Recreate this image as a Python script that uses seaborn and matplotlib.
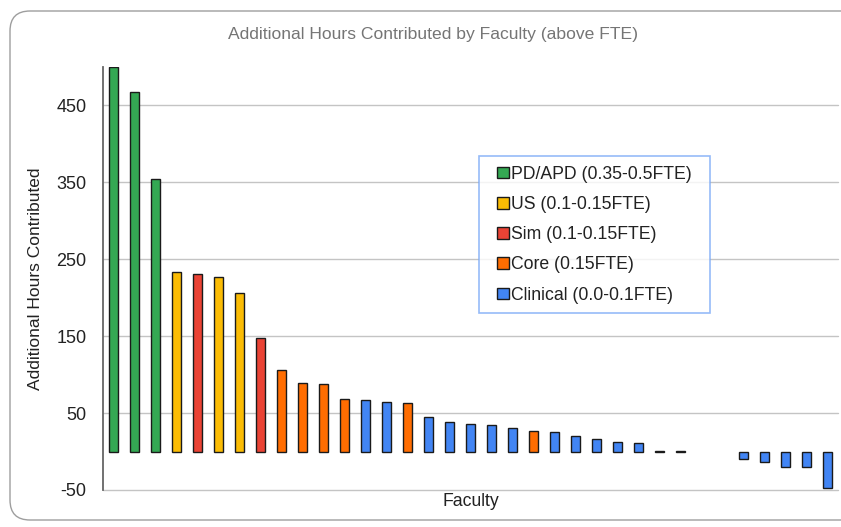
import matplotlib
matplotlib.use("Agg")
import matplotlib.pyplot as plt
from matplotlib.patches import FancyBboxPatch
from matplotlib.offsetbox import DrawingArea
import seaborn as sns
import pandas as pd
import numpy as np

# ---- data ----
faculty = [f"F{i+1}" for i in range(35)]
hours = [500, 468, 354, 233, 230.5, 226.5, 206, 148, 106, 89, 88, 68, 66.5, 64.5, 63,
         45, 39, 36, 35, 31, 26.5, 25, 20, 16, 13, 10.5, 1.2, 0.8, np.nan, np.nan,
         -9.5, -13.5, -19.5, -20.5, -48]
groups = ["PD/APD (0.35-0.5FTE)"] * 3 + [
    "US (0.1-0.15FTE)", "Sim (0.1-0.15FTE)", "US (0.1-0.15FTE)", "US (0.1-0.15FTE)",
    "Sim (0.1-0.15FTE)", "Core (0.15FTE)", "Core (0.15FTE)", "Core (0.15FTE)", "Core (0.15FTE)",
    "Clinical (0.0-0.1FTE)", "Clinical (0.0-0.1FTE)", "Core (0.15FTE)",
    "Clinical (0.0-0.1FTE)", "Clinical (0.0-0.1FTE)", "Clinical (0.0-0.1FTE)",
    "Clinical (0.0-0.1FTE)", "Clinical (0.0-0.1FTE)", "Core (0.15FTE)",
] + ["Clinical (0.0-0.1FTE)"] * 14
group_order = ["PD/APD (0.35-0.5FTE)", "US (0.1-0.15FTE)", "Sim (0.1-0.15FTE)",
               "Core (0.15FTE)", "Clinical (0.0-0.1FTE)"]
group_colors = ["#34A853", "#FBBC04", "#EA4335", "#FF6D01", "#4285F4"]
yticks = [-50, 50, 150, 250, 350, 450]

df = pd.DataFrame({"Faculty": faculty, "Hours": hours, "Group": groups})

sns.set_theme(style="white")
plt.rcParams["font.family"] = ["Liberation Sans", "DejaVu Sans"]

W, H = 841, 527
fig = plt.figure(figsize=(W / 100, H / 100), dpi=100)
ax = fig.add_axes([103 / W, (H - 490) / H, 735 / W, 423 / H])

# card border (inches)
card = FancyBboxPatch((0.10, 0.07), 8.9, (H - 11 - 7) / 100,
                      boxstyle="round,pad=0,rounding_size=0.2",
                      transform=fig.dpi_scale_trans, facecolor="white",
                      edgecolor="#9e9e9e", linewidth=1.0, zorder=-10)
fig.patches.append(card)

sns.barplot(data=df, x="Faculty", y="Hours", hue="Group", order=faculty,
            hue_order=group_order, palette=dict(zip(group_order, group_colors)),
            dodge=False, width=0.43, edgecolor="#1a1a1a", linewidth=1.0,
            saturation=1, ax=ax, zorder=3)

ax.set_ylim(-50, 500)
ax.set_xlim(-0.5, len(faculty) - 0.5)
ax.set_yticks(yticks)
ax.set_yticklabels([str(t) for t in yticks], fontsize=13, color="#222222")
ax.tick_params(axis="y", length=0, pad=12)
ax.set_xticks([])
ax.grid(axis="y", color="#c4c4c4", linewidth=1.0, zorder=0)
for gl in ax.get_ygridlines():
    gl.set_clip_on(False)
ax.set_axisbelow(True)
for s in ["top", "right", "bottom"]:
    ax.spines[s].set_visible(False)
ax.spines["left"].set_color("#666666")
ax.spines["left"].set_linewidth(1.3)
ax.set_facecolor("none")

ax.set_xlabel("Faculty", fontsize=12.7, color="#222222", labelpad=2)
ax.set_ylabel("Additional Hours Contributed", fontsize=12.5, color="#222222")
ax.yaxis.set_label_coords((43 - 103) / 735, 0.5)

fig.text(433 / W, 1 - 35 / H, "Additional Hours Contributed by Faculty (above FTE)",
         ha="center", va="center", fontsize=12.6, color="#757575")

leg = ax.legend(loc="upper left", bbox_to_anchor=((479 - 103) / 735, (490 - 156) / 423),
                borderaxespad=0, fontsize=12.7, frameon=True, fancybox=False,
                handlelength=0.65, handleheight=0.65, handletextpad=0.15,
                labelspacing=0.75, borderpad=0.55, columnspacing=0.0)
# extra horizontal padding inside the legend box
hb = leg._legend_handle_box
hb._children = [DrawingArea(6.0, 0)] + list(hb._children) + [DrawingArea(6.0, 0)]
leg.get_frame().set_edgecolor("#7baaf7")
leg.get_frame().set_linewidth(1.2)
for t in leg.get_texts():
    t.set_color("#222222")

fig.savefig("out.png", dpi=100)
